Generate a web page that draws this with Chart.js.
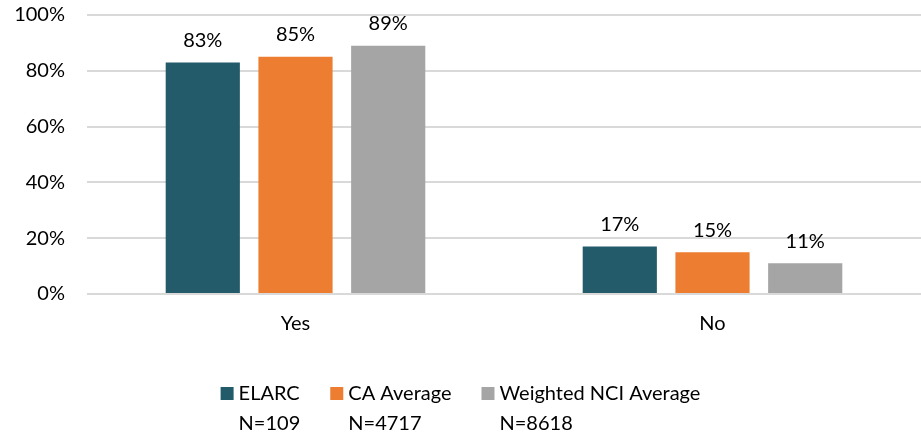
<!DOCTYPE html>
<html>
<head>
<meta charset="utf-8">
<script src="https://cdn.jsdelivr.net/npm/chart.js@4"></script>
<style>
  html, body { margin: 0; padding: 0; background: #fff; overflow: hidden; }
  #wrap { width: 921px; height: 457px; position: relative; top: -19px; }
</style>
</head>
<body>
<div id="wrap"><canvas id="chart"></canvas></div>
<script>
// data
const categories = ["Yes", "No"];
const seriesNames = ["ELARC", "CA Average", "Weighted NCI Average"];
const seriesN = ["N=109", "N=4717", "N=8618"];
const elarc = [83, 17];
const caAverage = [85, 15];
const nciAverage = [89, 11];
const yTicks = [0, 20, 40, 60, 80, 100];

const colors = ["#235B6B", "#ED7D31", "#A5A5A5"];
const FONT = "Lato, 'Open Sans', sans-serif";

// value labels above bars
const valueLabels = {
  id: "valueLabels",
  afterDatasetsDraw(chart) {
    const ctx = chart.ctx;
    ctx.save();
    ctx.font = "20px " + FONT;
    ctx.fillStyle = "#000";
    ctx.textAlign = "center";
    ctx.textBaseline = "bottom";
    chart.data.datasets.forEach((ds, i) => {
      chart.getDatasetMeta(i).data.forEach((bar, j) => {
        ctx.fillText(ds.data[j] + "%", bar.x, bar.y - 12);
      });
    });
    ctx.restore();
  }
};

// two-line legend at the bottom
const bottomLegend = {
  id: "bottomLegend",
  afterDraw(chart) {
    const ctx = chart.ctx;
    ctx.save();
    ctx.font = "20px " + FONT;
    ctx.fillStyle = "#000";
    ctx.textBaseline = "middle";
    const box = 13, gap = 5, spacing = 30;
    const widths = seriesNames.map((s, i) =>
      box + gap + Math.max(ctx.measureText(s).width, ctx.measureText(seriesN[i]).width));
    const total = widths.reduce((a, b) => a + b, 0) + spacing * (widths.length - 1);
    let x = (chart.width - total) / 2;
    const y1 = chart.chartArea.bottom + 100, y2 = y1 + 30;
    seriesNames.forEach((s, i) => {
      ctx.fillStyle = colors[i];
      ctx.fillRect(x, y1 - 7, box, box);
      ctx.fillStyle = "#000";
      ctx.textAlign = "left";
      ctx.fillText(s, x + box + gap, y1);
      ctx.fillText(seriesN[i], x + box + gap, y2);
      x += widths[i] + spacing;
    });
    ctx.restore();
  }
};

new Chart(document.getElementById("chart"), {
  type: "bar",
  data: {
    labels: categories,
    datasets: [
      { label: seriesNames[0], data: elarc, backgroundColor: colors[0] },
      { label: seriesNames[1], data: caAverage, backgroundColor: colors[1] },
      { label: seriesNames[2], data: nciAverage, backgroundColor: colors[2] }
    ]
  },
  options: {
    responsive: true,
    maintainAspectRatio: false,
    animation: false,
    layout: { padding: { top: 14, right: 0, left: 0, bottom: 0 }, autoPadding: false },
    datasets: { bar: { categoryPercentage: 0.667, barPercentage: 0.8 } },
    plugins: {
      legend: { display: false },
      tooltip: { enabled: false }
    },
    scales: {
      x: {
        grid: { display: false, drawTicks: false },
        border: { display: false },
        ticks: { color: "#000", font: { family: FONT, size: 20 }, padding: 18 },
        afterFit(scale) { scale.height = 144; }
      },
      y: {
        min: 0,
        max: 100,
        afterBuildTicks(scale) { scale.ticks = yTicks.map(v => ({ value: v })); },
        grid: { color: "#D9D9D9", lineWidth: 2, drawTicks: false },
        border: { display: false },
        ticks: {
          color: "#000",
          font: { family: FONT, size: 20 },
          padding: 22,
          callback: v => v + "%"
        },
        afterFit(scale) { scale.width = 87; }
      }
    }
  },
  plugins: [valueLabels, bottomLegend]
});
</script>
</body>
</html>
